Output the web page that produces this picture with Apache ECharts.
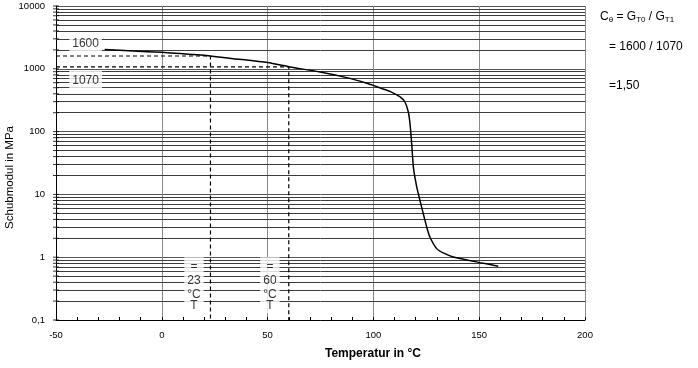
<!DOCTYPE html>
<html>
<head>
<meta charset="utf-8">
<script src="https://cdn.jsdelivr.net/npm/echarts@6/dist/echarts.min.js"></script>
<style>html,body{margin:0;padding:0;background:#fff}#c{width:698px;height:368px}</style>
</head>
<body>
<div id="c"></div>
<script>
// ---- data ----
const tempC   = [-27, -13.5, 0, 8.6, 22.8, 33.8, 50, 60.6, 74.8, 87.4, 96.9, 100, 103.1, 107.8, 112.6, 114.9, 116.5, 117.3, 118.1, 118.9, 120.5, 122.0, 125.2, 126.7, 129.9, 133.0, 137.8, 150.4, 159.0];
const modulus = [2020, 1920, 1830, 1745, 1600, 1450, 1255, 1070, 889, 724, 590, 545, 497, 437, 356, 296, 205, 134, 64, 27, 13.1, 8.05, 3.03, 2.1, 1.37, 1.17, 1.01, 0.82, 0.72];
const xTicks = [-50, 0, 50, 100, 150, 200];
const yDecades = [0.1, 1, 10, 100, 1000, 10000];
const yMinor = [0.2,0.3,0.4,0.5,0.6,0.7,0.8,0.9, 2,3,4,5,6,7,8,9, 20,30,40,50,60,70,80,90, 200,300,400,500,600,700,800,900, 2000,3000,4000,5000,6000,7000,8000,9000];
const refTemps = [23, 60];
const refModuli = [1600, 1070];
const refLabels = ['1600', '1070'];
const refLabelPos = [[-36, 2550], [-36, 650]];
const tempLabelPos = [[15.2, 0.358], [51.1, 0.358]];
const tempLabelText = ['23', '60'];

const FONT = 'Liberation Sans, Arial, Helvetica, sans-serif';
const chart = echarts.init(document.getElementById('c'), null, {renderer: 'canvas'});

const series = [];
// horizontal minor grid lines
series.push({
  type: 'line', data: [], silent: true, z: 1,
  markLine: {
    z: 1, silent: true, symbol: ['none', 'none'], animation: false,
    label: {show: false},
    lineStyle: {color: '#3c3c3c', type: 'solid', width: 1},
    emphasis: {disabled: true},
    data: yMinor.map(v => ({yAxis: v}))
  }
});
// y axis tick marks crossing the axis line
series.push({
  type: 'scatter', silent: true, clip: false, z: 4,
  symbol: 'rect', symbolSize: [6, 1],
  itemStyle: {color: '#000'},
  data: yMinor.concat(yDecades).map(v => [xTicks[0], v])
});
// dashed reference lines
refTemps.forEach((t, i) => {
  series.push({
    type: 'line', silent: true, z: 3, symbol: 'none',
    lineStyle: {color: '#000', width: 1.2, type: [4, 3]},
    data: [[xTicks[0], refModuli[i]], [t, refModuli[i]], [t, yDecades[0]]]
  });
});
// main curve
series.push({
  type: 'line', silent: true, z: 4, symbol: 'none', smooth: 0.2,
  lineStyle: {color: '#000', width: 1.5},
  data: tempC.map((t, i) => [t, modulus[i]])
});
// value labels with white boxes
series.push({
  type: 'scatter', silent: true, clip: false, z: 10, symbolSize: 0,
  data: refLabelPos.map((p, i) => ({value: p, name: refLabels[i]})),
  label: {
    show: true, position: 'inside', formatter: p => p.name,
    fontFamily: FONT, fontSize: 12, color: '#000',
    backgroundColor: '#fff', padding: [3, 3, 3, 3], lineHeight: 14
  }
});
series.push({
  type: 'scatter', silent: true, clip: false, z: 10, symbolSize: 0,
  data: tempLabelPos.map((p, i) => ({value: p, name: tempLabelText[i]})),
  label: {
    show: true, position: 'inside',
    formatter: p => '{e|=}\n{n|' + p.name + '}\n{c|°C}\n{t|T}',
    backgroundColor: '#fff', padding: [2, 3, 3, 3],
    rich: {
      e: {fontFamily: FONT, fontSize: 12, lineHeight: 14, color: '#000', align: 'center'},
      n: {fontFamily: FONT, fontSize: 12, lineHeight: 15, color: '#000', align: 'center'},
      c: {fontFamily: FONT, fontSize: 12, lineHeight: 12, color: '#000', align: 'center'},
      t: {fontFamily: FONT, fontSize: 12, lineHeight: 10, color: '#000', align: 'center'}
    }
  }
});

chart.setOption({
  animation: false,
  backgroundColor: '#fff',
  grid: {left: 56, right: 113, top: 6, bottom: 48, containLabel: false},
  xAxis: {
    type: 'value', min: xTicks[0], max: xTicks[xTicks.length - 1], interval: 50,
    axisLine: {show: true, onZero: false, lineStyle: {color: '#000', width: 1}},
    axisTick: {show: true, inside: true, length: 3, lineStyle: {color: '#000'}},
    minorTick: {show: true, splitNumber: 5, length: 3, lineStyle: {color: '#000'}},
    axisLabel: {fontFamily: FONT, fontSize: 9.5, color: '#000', margin: 10},
    splitLine: {show: true, lineStyle: {color: '#8a8a8a', width: 1}}
  },
  yAxis: {
    type: 'log', logBase: 10, min: yDecades[0], max: yDecades[yDecades.length - 1],
    axisLine: {show: true, onZero: false, lineStyle: {color: '#000', width: 1}},
    axisTick: {show: false},
    axisLabel: {
      fontFamily: FONT, fontSize: 9.5, color: '#000', margin: 11,
      formatter: v => (v < 1 ? '0,1' : String(Math.round(v)))
    },
    splitLine: {show: true, lineStyle: {color: '#555', width: 1}}
  },
  graphic: [
    {type: 'text', left: 4, top: 126, rotation: Math.PI / 2, originX: 0, originY: 0,
     style: {text: 'Schubmodul in MPa', font: '11.5px ' + FONT, fill: '#000'}},
    {type: 'text', x: 325, y: 348,
     style: {text: 'Temperatur in °C', font: 'bold 12px ' + FONT, fill: '#000'}},
    {type: 'text', x: 600, y: 10,
     style: {
       text: '{n|C}{s|θ}{n| = G}{s|T0}{n| / G}{s|T1}',
       rich: {
         n: {fontFamily: FONT, fontSize: 12, fill: '#000', lineHeight: 14},
         s: {fontFamily: FONT, fontSize: 8, fill: '#000', padding: [6, 0, 0, 0], lineHeight: 14}
       }
     }},
    {type: 'text', x: 609, y: 41, style: {text: '= 1600 / 1070', font: '12px ' + FONT, fill: '#000'}},
    {type: 'text', x: 609, y: 80, style: {text: '=1,50', font: '12px ' + FONT, fill: '#000'}}
  ],
  series: series
});
</script>
</body>
</html>
